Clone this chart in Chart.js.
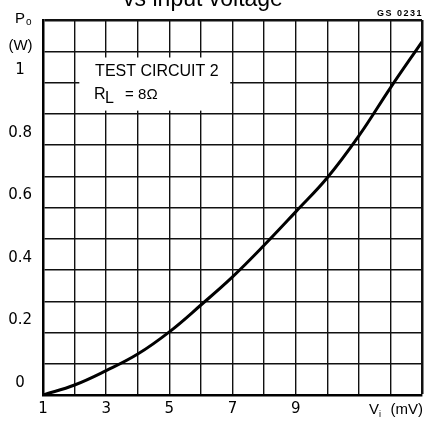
<!DOCTYPE html>
<html>
<head>
<meta charset="utf-8">
<script src="https://cdn.jsdelivr.net/npm/chart.js@4/dist/chart.umd.min.js"></script>
<style>
  html, body { margin: 0; padding: 0; background: #fff; }
</style>
</head>
<body>
<canvas id="grafico" width="431" height="422"></canvas>
<script>
// Vi (mV) vs Po (W) at each grid column
const vi = [1, 2, 3, 4, 5, 6, 7, 8, 9, 10, 11, 12, 13];
const po = [0, 0.032, 0.078, 0.131, 0.202, 0.288, 0.378, 0.479, 0.586, 0.695, 0.829, 0.983, 1.13];
const xTickLabels = [1, 3, 5, 7, 9];
const yTickValues = [0, 0.2, 0.4, 0.6, 0.8, 1];
const yTickLabels = ['0', '0.2', '0.4', '0.6', '0.8', '1'];

const tickFont = { family: 'DejaVu Sans', size: 15 };

function edgeWidth(max) {
  return (c) => {
    const v = c.tick ? c.tick.value : null;
    return (v !== null && Math.abs(v - max) < 1e-6) ? 2.5 : 1.4;
  };
}

const decor = {
  id: 'decor',
  beforeDatasetsDraw(chart) {
    const { ctx, scales: { x, y } } = chart;
    const l = x.getPixelForValue(2.15), r = x.getPixelForValue(6.93);
    const t = y.getPixelForValue(1.08), b = y.getPixelForValue(0.91);
    ctx.save();
    ctx.fillStyle = '#fff';
    ctx.fillRect(l, t, r - l, b - t);
    ctx.fillStyle = '#000';
    ctx.textBaseline = 'middle';
    ctx.textAlign = 'left';
    ctx.font = '16px "Liberation Sans"';
    const tx = x.getPixelForValue(2.65);
    ctx.fillText('TEST CIRCUIT 2', tx, y.getPixelForValue(1.035));
    const ry = y.getPixelForValue(0.962);
    ctx.fillText('R', tx - 1, ry);
    ctx.fillText('L', tx + 10, ry + 4);
    ctx.font = '15px "Liberation Sans"';
    ctx.fillText('= 8\u03A9', tx + 30, ry);
    ctx.restore();
  },
  afterDraw(chart) {
    const { ctx, chartArea } = chart;
    ctx.save();
    ctx.fillStyle = '#000';
    ctx.textBaseline = 'alphabetic';
    // cut-off title at the very top
    ctx.textAlign = 'center';
    ctx.font = '23px "Liberation Sans"';
    ctx.fillText('vs input voltage', 203, 6);
    // y axis title
    ctx.textAlign = 'left';
    ctx.font = '15px "Liberation Sans"';
    ctx.fillText('P', 15, 23);
    ctx.font = '10px "Liberation Sans"';
    ctx.fillText('o', 26, 25);
    ctx.textAlign = 'center';
    ctx.font = '15px "Liberation Sans"';
    ctx.fillText('(W)', 20.5, 50);
    // x axis title
    ctx.textAlign = 'right';
    ctx.fillText('(mV)', chartArea.right + 1, 414);
    ctx.textAlign = 'left';
    ctx.fillText('V', 369, 414);
    ctx.font = '9px "Liberation Sans"';
    ctx.fillText('i', 379, 417);
    // drawing code
    ctx.textAlign = 'right';
    ctx.font = 'bold 9px "Liberation Sans"';
    ctx.letterSpacing = '1.5px';
    ctx.fillText('GS 0231', chartArea.right + 1, 16);
    ctx.restore();
  }
};

const ctx = document.getElementById('grafico').getContext('2d');

const grafico = new Chart(ctx, {
  type: 'line',
  data: {
    datasets: [{
      data: vi.map((v, i) => ({ x: v, y: po[i] })),
      borderColor: '#000',
      borderWidth: 3,
      pointRadius: 0,
      fill: false,
      tension: 0.4
    }]
  },
  options: {
    responsive: false,
    animation: false,
    layout: { padding: { top: 19, right: 9, left: 0, bottom: 0 } },
    plugins: {
      legend: { display: false },
      tooltip: { enabled: false }
    },
    scales: {
      x: {
        type: 'linear',
        min: 1,
        max: 13,
        ticks: {
          stepSize: 1,
          autoSkip: false,
          maxRotation: 0,
          padding: 5,
          color: '#000',
          font: tickFont,
          callback: (v) => xTickLabels.includes(v) ? String(v) : ''
        },
        grid: { color: '#111', lineWidth: edgeWidth(13), drawTicks: false },
        border: { color: '#000', width: 2.5 },
        afterFit: (s) => { s.height = 27; }
      },
      y: {
        min: 0,
        max: 1.2,
        ticks: {
          stepSize: 0.1,
          autoSkip: false,
          padding: 11,
          crossAlign: 'center',
          labelOffset: -12,
          color: '#000',
          font: tickFont,
          callback: (v) => {
            const k = yTickValues.findIndex(t => Math.abs(t - v) < 1e-6);
            return k >= 0 ? yTickLabels[k] : '';
          }
        },
        grid: { color: '#111', lineWidth: edgeWidth(1.2), drawTicks: false },
        border: { color: '#000', width: 2.5 },
        afterFit: (s) => { s.width = 43; }
      }
    }
  },
  plugins: [decor]
});
</script>
</body>
</html>
